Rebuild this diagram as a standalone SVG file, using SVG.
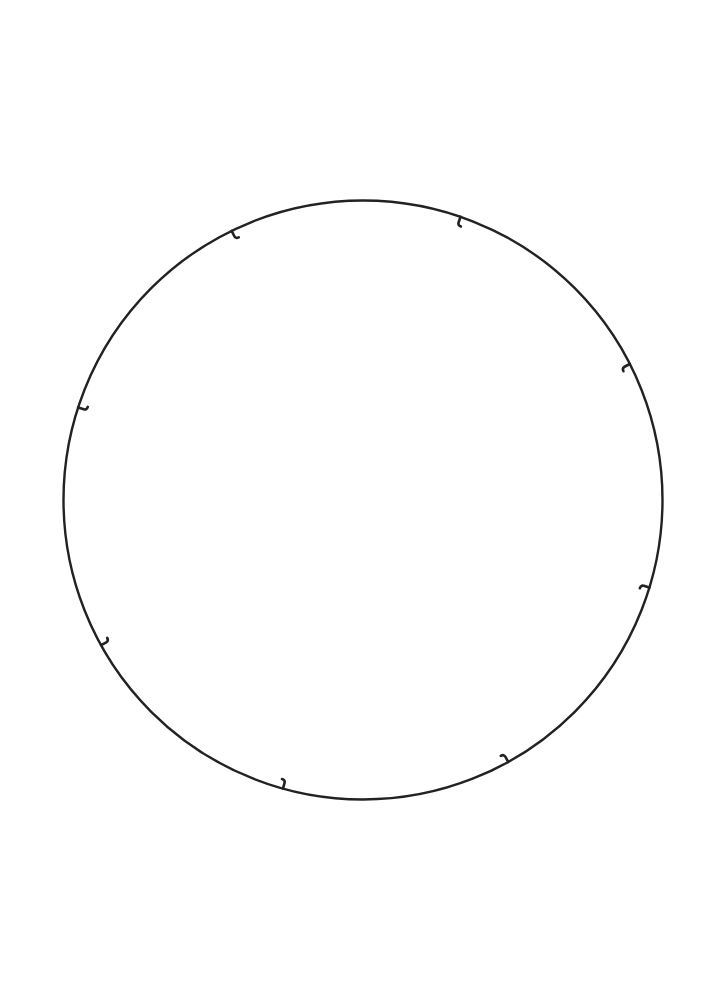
<svg xmlns="http://www.w3.org/2000/svg" width="727" height="1000" viewBox="0 0 727 1000">
<style>
.ring{fill:none;stroke:#222;stroke-width:2.4}
.hook{fill:none;stroke:#222;stroke-width:2.6;stroke-linecap:round}
</style>
<defs>
<path id="hk" class="hook" d="M0 0 L-6 0 Q-9 0 -9 3.5"/>
</defs>
<rect width="727" height="1000" fill="#fff"/>
<g id="ring">
<circle class="ring" cx="363" cy="500" r="299.5"/>
</g>
<g id="marks">
<use href="#hk" transform="rotate(-116 363 500) translate(662.5 500)"/>
<use href="#hk" transform="rotate(-71 363 500) translate(662.5 500)"/>
<use href="#hk" transform="rotate(-27 363 500) translate(662.5 500)"/>
<use href="#hk" transform="rotate(17 363 500) translate(662.5 500)"/>
<use href="#hk" transform="rotate(61 363 500) translate(662.5 500)"/>
<use href="#hk" transform="rotate(105.5 363 500) translate(662.5 500)"/>
<use href="#hk" transform="rotate(151 363 500) translate(662.5 500)"/>
<use href="#hk" transform="rotate(198 363 500) translate(662.5 500)"/>
</g>
</svg>
